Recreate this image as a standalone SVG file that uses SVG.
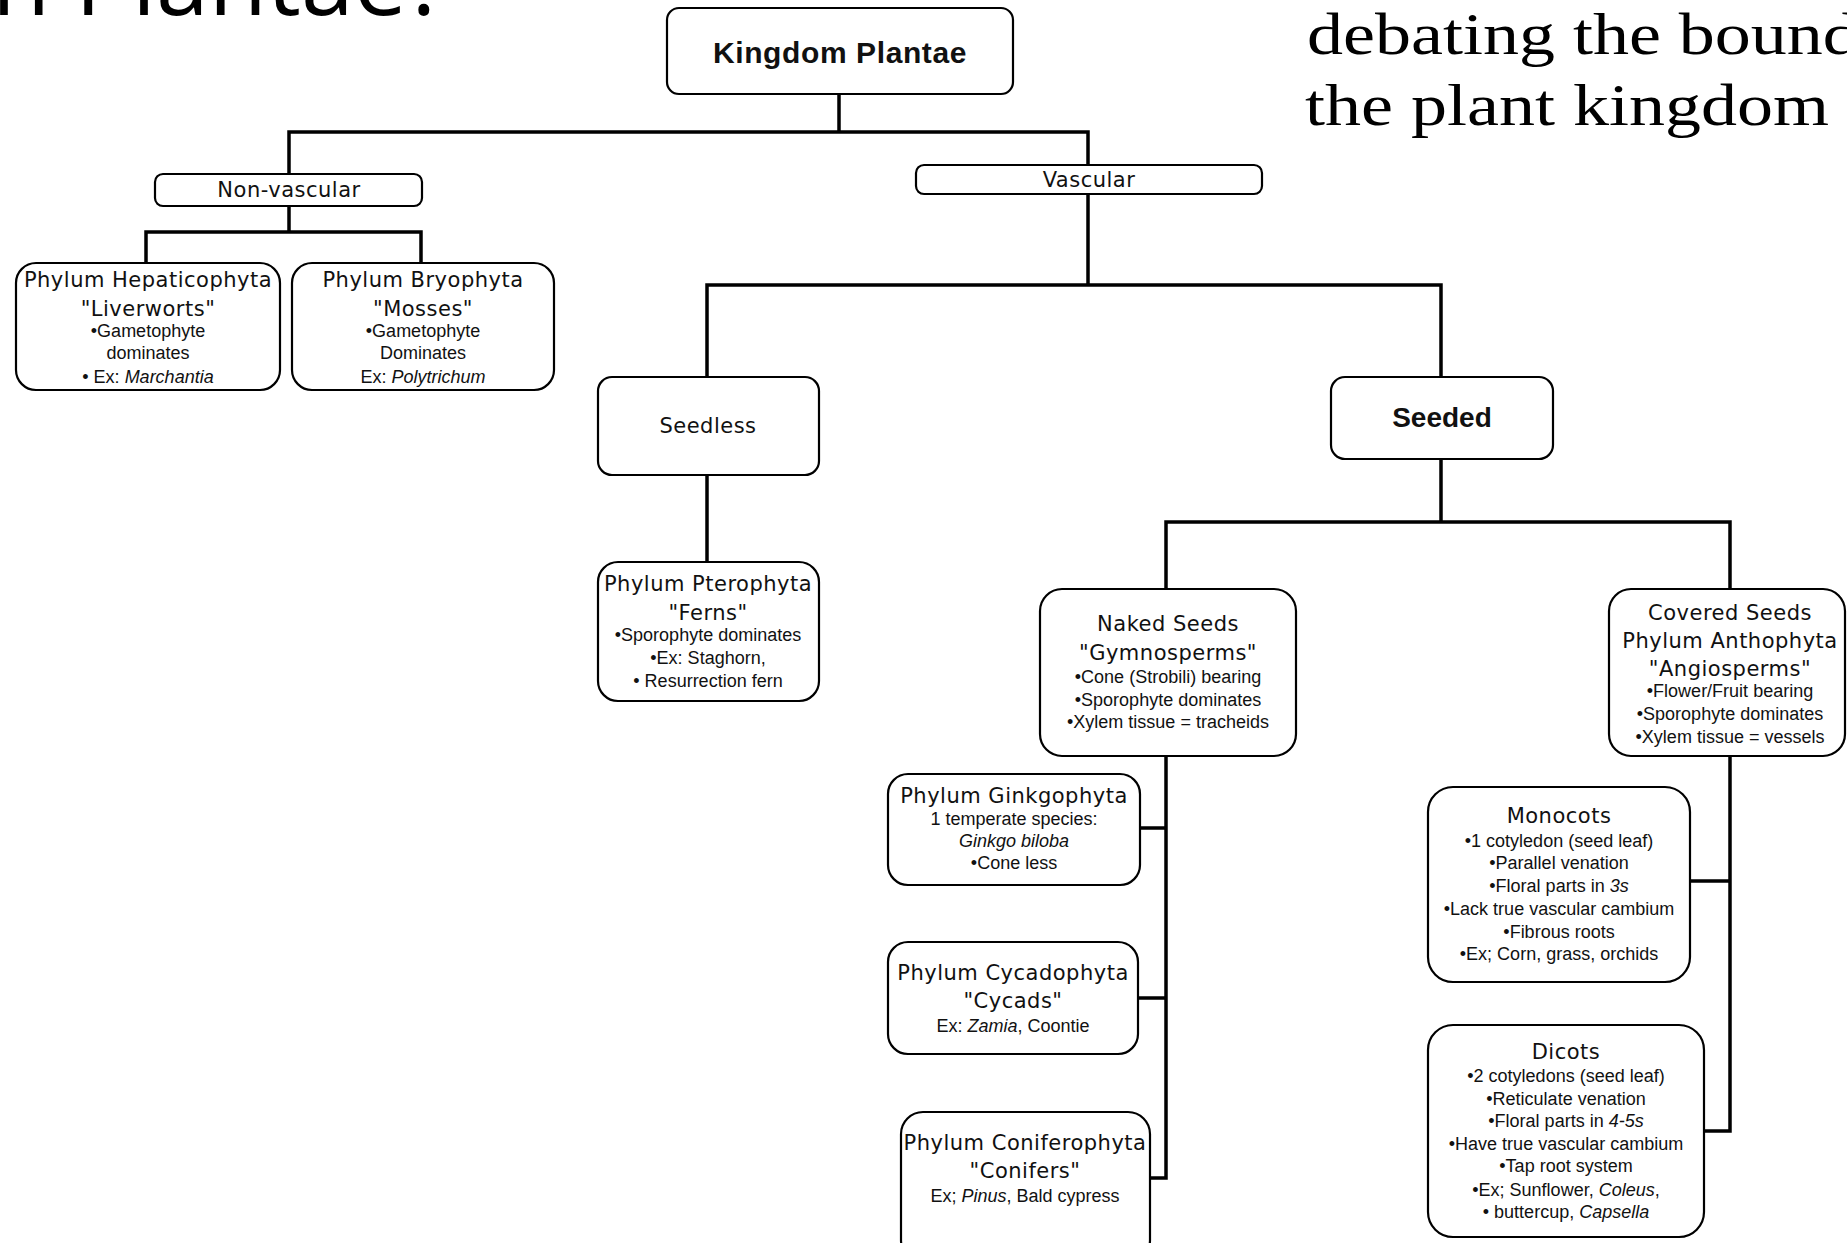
<svg xmlns="http://www.w3.org/2000/svg" width="1847" height="1243" viewBox="0 0 1847 1243">
<style>
.bg{fill:#fff}
.box{fill:#fff;stroke:#000;stroke-width:2.2}
.con{fill:none;stroke:#000;stroke-width:3.5;stroke-linejoin:miter;stroke-linecap:square}
.t{font-family:"DejaVu Sans",sans-serif;font-size:21px;letter-spacing:0.5px;fill:#111;text-anchor:middle}
.s{font-family:"Liberation Sans",Arial,sans-serif;font-size:18px;fill:#111;text-anchor:middle}
.b{font-family:"Liberation Sans",Arial,sans-serif;font-weight:bold;fill:#111;text-anchor:middle}
.i{font-style:italic}
.title{font-family:"Open Sans","Noto Sans",sans-serif;font-size:95px;fill:#000}
.serif{font-family:"Liberation Serif","Times New Roman",serif;font-size:60px;fill:#000}
</style>
<rect class="bg" x="0" y="0" width="1847" height="1243"/>
<text class="title" x="-8" y="15">n Plantae?</text>
<text class="serif" transform="translate(1307,54) scale(1.2,1)">debating the bound</text>
<text class="serif" transform="translate(1305,125) scale(1.2,1)">the plant kingdom</text>

<g id="connectors">
<path class="con" d="M839,94 V132 M289,132 H1088 M289,132 V174 M1088,132 V165"/>
<path class="con" d="M289,206 V232 M146,232 H421 M146,232 V263 M421,232 V263"/>
<path class="con" d="M1088,194 V285 M707,285 H1441 M707,285 V377 M1441,285 V377"/>
<path class="con" d="M707,475 V562"/>
<path class="con" d="M1441,459 V522 M1166,522 H1730 M1166,522 V589 M1730,522 V589"/>
<path class="con" d="M1166,756 V1178 M1140,828 H1166 M1138,998 H1166 M1150,1178 H1166"/>
<path class="con" d="M1730,756 V1131 M1690,881 H1730 M1704,1131 H1730"/>
</g>

<g id="kingdom">
<rect class="box" x="667" y="8" width="346" height="86" rx="12"/>
<text class="b" x="840" y="63" font-size="30" letter-spacing="0.6">Kingdom Plantae</text>
</g>
<g id="nonvascular">
<rect class="box" x="155" y="174" width="267" height="32" rx="8"/>
<text class="t" x="289" y="197" font-size="20">Non-vascular</text>
</g>
<g id="vascular">
<rect class="box" x="916" y="165" width="346" height="29" rx="8"/>
<text class="t" x="1089" y="187" font-size="20">Vascular</text>
</g>
<g id="hepaticophyta">
<rect class="box" x="16" y="263" width="264" height="127" rx="20"/>
<text class="t" x="148" y="287">Phylum Hepaticophyta</text>
<text class="t" x="148" y="316">"Liverworts"</text>
<text class="s" x="148" y="337">•Gametophyte</text>
<text class="s" x="148" y="359">dominates</text>
<text class="s" x="148" y="383">• Ex: <tspan class="i">Marchantia</tspan></text>
</g>
<g id="bryophyta">
<rect class="box" x="292" y="263" width="262" height="127" rx="20"/>
<text class="t" x="423" y="287">Phylum Bryophyta</text>
<text class="t" x="423" y="316">"Mosses"</text>
<text class="s" x="423" y="337">•Gametophyte</text>
<text class="s" x="423" y="359">Dominates</text>
<text class="s" x="423" y="383">Ex: <tspan class="i">Polytrichum</tspan></text>
</g>
<g id="seedless">
<rect class="box" x="598" y="377" width="221" height="98" rx="14"/>
<text class="t" x="708" y="433">Seedless</text>
</g>
<g id="seeded">
<rect class="box" x="1331" y="377" width="222" height="82" rx="14"/>
<text class="b" x="1442" y="427" font-size="28">Seeded</text>
</g>
<g id="pterophyta">
<rect class="box" x="598" y="562" width="221" height="139" rx="20"/>
<text class="t" x="708" y="591">Phylum Pterophyta</text>
<text class="t" x="708" y="620">"Ferns"</text>
<text class="s" x="708" y="641">•Sporophyte dominates</text>
<text class="s" x="708" y="664">•Ex: Staghorn,</text>
<text class="s" x="708" y="687">• Resurrection fern</text>
</g>
<g id="naked">
<rect class="box" x="1040" y="589" width="256" height="167" rx="22"/>
<text class="t" x="1168" y="631">Naked Seeds</text>
<text class="t" x="1168" y="660">"Gymnosperms"</text>
<text class="s" x="1168" y="683">•Cone (Strobili) bearing</text>
<text class="s" x="1168" y="706">•Sporophyte dominates</text>
<text class="s" x="1168" y="728">•Xylem tissue = tracheids</text>
</g>
<g id="covered">
<rect class="box" x="1609" y="589" width="236" height="167" rx="22"/>
<text class="t" x="1730" y="620">Covered Seeds</text>
<text class="t" x="1730" y="648">Phylum Anthophyta</text>
<text class="t" x="1730" y="676">"Angiosperms"</text>
<text class="s" x="1730" y="697">•Flower/Fruit bearing</text>
<text class="s" x="1730" y="720">•Sporophyte dominates</text>
<text class="s" x="1730" y="743">•Xylem tissue = vessels</text>
</g>
<g id="ginkgo">
<rect class="box" x="888" y="774" width="252" height="111" rx="20"/>
<text class="t" x="1014" y="803">Phylum Ginkgophyta</text>
<text class="s" x="1014" y="825">1 temperate species:</text>
<text class="s i" x="1014" y="847">Ginkgo biloba</text>
<text class="s" x="1014" y="869">•Cone less</text>
</g>
<g id="cycad">
<rect class="box" x="888" y="942" width="250" height="112" rx="20"/>
<text class="t" x="1013" y="980">Phylum Cycadophyta</text>
<text class="t" x="1013" y="1008">"Cycads"</text>
<text class="s" x="1013" y="1032">Ex: <tspan class="i">Zamia</tspan>, Coontie</text>
</g>
<g id="conifer">
<rect class="box" x="901" y="1112" width="249" height="150" rx="22"/>
<text class="t" x="1025" y="1150">Phylum Coniferophyta</text>
<text class="t" x="1025" y="1178">"Conifers"</text>
<text class="s" x="1025" y="1202">Ex; <tspan class="i">Pinus</tspan>, Bald cypress</text>
</g>
<g id="monocots">
<rect class="box" x="1428" y="787" width="262" height="195" rx="25"/>
<text class="t" x="1559" y="823">Monocots</text>
<text class="s" x="1559" y="847">•1 cotyledon (seed leaf)</text>
<text class="s" x="1559" y="869">•Parallel venation</text>
<text class="s" x="1559" y="892">•Floral parts in <tspan class="i">3s</tspan></text>
<text class="s" x="1559" y="915">•Lack true vascular cambium</text>
<text class="s" x="1559" y="938">•Fibrous roots</text>
<text class="s" x="1559" y="960">•Ex; Corn, grass, orchids</text>
</g>
<g id="dicots">
<rect class="box" x="1428" y="1025" width="276" height="212" rx="25"/>
<text class="t" x="1566" y="1059">Dicots</text>
<text class="s" x="1566" y="1082">•2 cotyledons (seed leaf)</text>
<text class="s" x="1566" y="1105">•Reticulate venation</text>
<text class="s" x="1566" y="1127">•Floral parts in <tspan class="i">4-5s</tspan></text>
<text class="s" x="1566" y="1150">•Have true vascular cambium</text>
<text class="s" x="1566" y="1172">•Tap root system</text>
<text class="s" x="1566" y="1196">•Ex; Sunflower, <tspan class="i">Coleus</tspan>,</text>
<text class="s" x="1566" y="1218">• buttercup, <tspan class="i">Capsella</tspan></text>
</g>
</svg>
